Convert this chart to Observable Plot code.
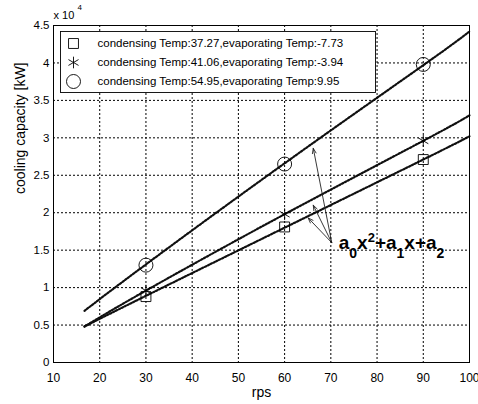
<!DOCTYPE html>
<html><head><meta charset="utf-8">
<script src="https://cdn.jsdelivr.net/npm/d3@7"></script>
<script src="https://cdn.jsdelivr.net/npm/@observablehq/plot@0.6"></script>
<style>body{margin:0;background:#fff}#chart{width:478px;height:404px}</style>
</head><body><div id="chart"></div>
<script>
// measured points (rps, cooling capacity in units of 10^4 kW)
const rps = [30, 60, 90];
const squareCap = [0.88, 1.81, 2.71];
const starCap = [0.96, 1.98, 2.96];
const circleCap = [1.30, 2.65, 3.98];
// fitted curves
const fitRps = [16.7, 30, 60, 90, 100];
const squareFit = [0.48, 0.89, 1.80, 2.71, 3.02];
const starFit = [0.48, 0.96, 1.98, 2.96, 3.30];
const circleFit = [0.69, 1.31, 2.66, 3.97, 4.42];
const seriesNames = [
  "condensing Temp:37.27,evaporating Temp:-7.73",
  "condensing Temp:41.06,evaporating Temp:-3.94",
  "condensing Temp:54.95,evaporating Temp:9.95"
];
const seriesSymbols = ["square", "asterisk", "circle"];
const xTicks = [10, 20, 30, 40, 50, 60, 70, 80, 90, 100];
const yTicks = [0, 0.5, 1, 1.5, 2, 2.5, 3, 3.5, 4, 4.5];
const xLabel = "rps";
const yLabel = "cooling capacity [kW]";
const formulaText = "a0x2+a1x+a2";
const arrowStartX = [70.2, 70.2, 70.2];
const arrowStartY = [1.60, 1.60, 1.60];
const arrowTipX = [66.2, 66.2, 65.1];
const arrowTipY = [2.86, 2.10, 1.93];
const formulaX = [71.7];
const formulaY = [1.52];

const pointSets = [squareCap, starCap, circleCap];
const fitSets = [squareFit, starFit, circleFit];
const symbolR = {square: 5.6, asterisk: 5.5, circle: 7};

const fitData = fitSets.flatMap((ys, i) => fitRps.map((x, j) => ({series: seriesNames[i], x, y: ys[j]})));
const arrows = arrowTipX.map((x, i) => ({x1: arrowStartX[i], y1: arrowStartY[i], x2: x, y2: arrowTipY[i]}));

const font = "'Liberation Sans', Arial, Helvetica, sans-serif";
const grid = {stroke: "black", strokeWidth: 1, strokeDasharray: "2,2"};

const marks = [
  Plot.line(fitData, {x: "x", y: "y", z: "series", stroke: "#111", strokeWidth: 2.2, strokeDasharray: "1.6,1.6", curve: "natural"}),
  ...pointSets.map((ys, i) => Plot.dot(rps.map((x, j) => ({x, y: ys[j]})), {
    x: "x", y: "y", symbol: seriesSymbols[i], r: symbolR[seriesSymbols[i]], stroke: "black", strokeWidth: 0.9, fill: "none"
  })),
  Plot.arrow(arrows, {x1: "x1", y1: "y1", x2: "x2", y2: "y2", stroke: "#222", strokeWidth: 0.9, headLength: 9, headAngle: 40}),
  Plot.text([formulaText], {x: () => formulaX[0], y: () => formulaY[0], text: d => d, textAnchor: "start", lineAnchor: "bottom", fontSize: 19, fontWeight: "bold"}),
  Plot.ruleX(xTicks, {x: d => d, ...grid}),
  Plot.ruleY(yTicks, {y: d => d, ...grid}),
  // legend entries (box added below, behind them)
  ...seriesNames.map((name, i) => Plot.dot([name], {
    frameAnchor: "top-left", dx: 20, dy: 18 + i * 19, symbol: seriesSymbols[i], r: symbolR[seriesSymbols[i]], stroke: "black", strokeWidth: 0.9, fill: "none"
  })),
  ...seriesNames.map((name, i) => Plot.text([name], {
    frameAnchor: "top-left", dx: 44, dy: 18 + i * 19, text: d => d, textAnchor: "start", lineAnchor: "middle", fontSize: 11.5
  })),
  Plot.frame({stroke: "black", strokeWidth: 1}),
  Plot.axisX({ticks: xTicks, anchor: "bottom", tickSize: 0, tickPadding: 11, label: null, fontSize: 12}),
  Plot.axisY({ticks: yTicks, anchor: "left", tickSize: 0, tickPadding: 4, label: null, tickFormat: d => String(d), fontSize: 11.5}),
  Plot.text([xLabel], {frameAnchor: "bottom", dy: 30, text: d => d, fontSize: 14, lineAnchor: "middle"}),
  Plot.text([yLabel], {frameAnchor: "left", dx: -33, rotate: -90, text: d => d, fontSize: 14, lineAnchor: "middle"}),
  Plot.text(["x 10"], {frameAnchor: "top-left", dx: 0, dy: -10, text: d => d, textAnchor: "start", fontSize: 11, lineAnchor: "middle"}),
  Plot.text(["4"], {frameAnchor: "top-left", dx: 24, dy: -18, text: d => d, textAnchor: "start", fontSize: 8, lineAnchor: "middle"})
];

const chart = Plot.plot({
  width: 478, height: 404,
  marginLeft: 53, marginRight: 9, marginTop: 25, marginBottom: 42,
  x: {domain: [10, 100]},
  y: {domain: [0, 4.5]},
  style: {fontFamily: font, fontSize: "11px", background: "white", color: "black", overflow: "visible"},
  marks
});
document.getElementById("chart").appendChild(chart);

// formula with sub/superscripts
const formulaNode = Array.from(chart.querySelectorAll("text")).find(n => n.textContent === formulaText);
if (formulaNode) {
  const t = d3.select(formulaNode);
  t.text(null);
  const parts = [["a", 0], ["0", 9], ["x", -9], ["2", -7], ["+a", 7], ["1", 9], ["x", -9], ["+a", 0], ["2", 9]];
  parts.forEach(([s, dy], i) => {
    const sp = t.append("tspan").text(s).attr("dy", dy);
    if (i === 1 || i === 5 || i === 8) sp.attr("font-size", 14);
    if (i === 3) sp.attr("font-size", 13);
  });
}
// legend box: behind the legend entries, above the grid
const ruleGroups = chart.querySelectorAll(':scope > g[aria-label="rule"]');
const lastRule = ruleGroups[ruleGroups.length - 1];
if (lastRule) {
  const box = document.createElementNS("http://www.w3.org/2000/svg", "rect");
  box.setAttribute("x", 60.5); box.setAttribute("y", 31.5);
  box.setAttribute("width", 315); box.setAttribute("height", 61);
  box.setAttribute("fill", "white"); box.setAttribute("stroke", "black"); box.setAttribute("stroke-width", 0.9);
  chart.insertBefore(box, lastRule.nextSibling);
}
</script></body></html>
